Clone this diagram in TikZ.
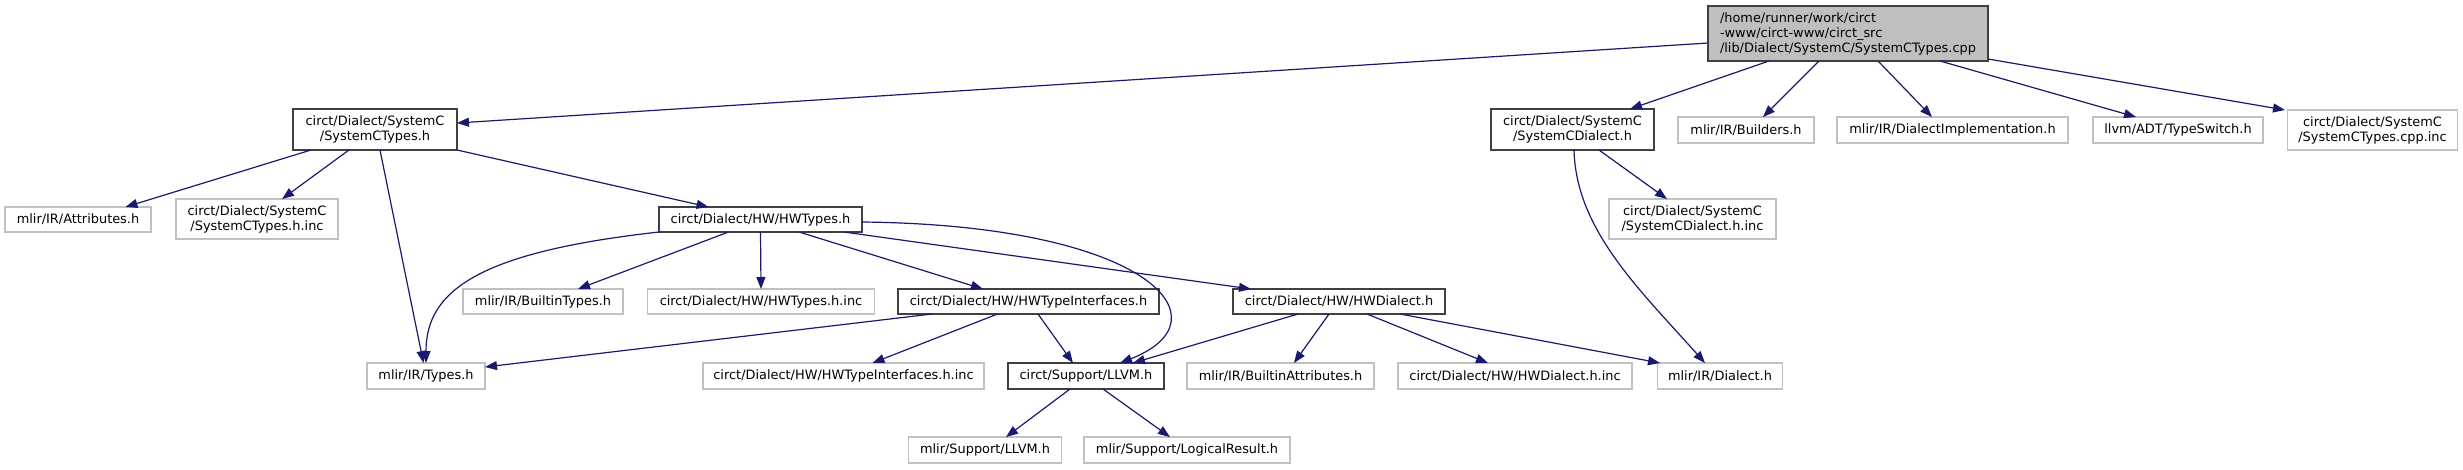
\documentclass[tikz,border=0pt]{standalone}
\usepackage{fontspec}
\setmainfont{DejaVu Sans}
\usetikzlibrary{arrows.meta}
\definecolor{edgeblue}{HTML}{191970}
\definecolor{darkborder}{HTML}{404040}
\definecolor{lightborder}{HTML}{C0C0C0}
\definecolor{rootfill}{HTML}{BFBFBF}
\begin{document}
\begin{tikzpicture}[x=1pt,y=-1pt,
 box/.style={draw, rectangle, inner sep=0pt, outer sep=0pt, font=\fontsize{12.9}{15}\selectfont, align=center, fill=white},
 docbox/.style={box, draw=darkborder, line width=1.5pt},
 extbox/.style={box, draw=lightborder, line width=1.2pt},
 edge/.style={draw=edgeblue, line width=1.2pt, -{Triangle[length=12pt,width=9pt]}}
]
\useasboundingbox (0,0) rectangle (2463,469);
% nodes
\node[docbox, fill=rootfill, align=left, minimum width=280pt, minimum height=55pt] (root) at (1848,33.5) {/home/runner/work/circt\\-www/circt-www/circt\_src\\/lib/Dialect/SystemC/SystemCTypes.cpp};
\node[docbox, minimum width=164pt, minimum height=41pt] (sctypes) at (375,129.5) {circt/Dialect/SystemC\\/SystemCTypes.h};
\node[extbox, minimum width=146pt, minimum height=25pt] (attr) at (78,219.5) {mlir/IR/Attributes.h};
\node[extbox, minimum width=162pt, minimum height=40pt] (sctinc) at (257,219) {circt/Dialect/SystemC\\/SystemCTypes.h.inc};
\node[extbox, minimum width=118pt, minimum height=26pt] (types) at (426,376) {mlir/IR/Types.h};
\node[docbox, minimum width=203pt, minimum height=25pt] (hwtypes) at (760.5,219.5) {circt/Dialect/HW/HWTypes.h};
\node[extbox, minimum width=160pt, minimum height=25pt] (builtintypes) at (543,301.5) {mlir/IR/BuiltinTypes.h};
\node[extbox, minimum width=227pt, minimum height=25pt] (hwtinc) at (761,301.5) {circt/Dialect/HW/HWTypes.h.inc};
\node[docbox, minimum width=261pt, minimum height=25pt] (hwti) at (1028.5,301.5) {circt/Dialect/HW/HWTypeInterfaces.h};
\node[docbox, minimum width=212pt, minimum height=25pt] (hwdialect) at (1339,301.5) {circt/Dialect/HW/HWDialect.h};
\node[extbox, minimum width=167pt, minimum height=40pt] (scdinc) at (1692.5,219) {circt/Dialect/SystemC\\/SystemCDialect.h.inc};
\node[docbox, minimum width=163pt, minimum height=41pt] (scdialect) at (1572.5,129.5) {circt/Dialect/SystemC\\/SystemCDialect.h};
\node[extbox, minimum width=136pt, minimum height=26pt] (builders) at (1746,130) {mlir/IR/Builders.h};
\node[extbox, minimum width=231pt, minimum height=26pt] (dialimpl) at (1952.5,130) {mlir/IR/DialectImplementation.h};
\node[extbox, minimum width=170pt, minimum height=26pt] (typeswitch) at (2178,130) {llvm/ADT/TypeSwitch.h};
\node[extbox, minimum width=170pt, minimum height=40pt] (sctcppinc) at (2372.5,130) {circt/Dialect/SystemC\\/SystemCTypes.cpp.inc};
\node[extbox, minimum width=281pt, minimum height=26pt] (hwtiinc) at (843.5,376) {circt/Dialect/HW/HWTypeInterfaces.h.inc};
\node[docbox, minimum width=156pt, minimum height=26pt] (llvm) at (1086,376) {circt/Support/LLVM.h};
\node[extbox, minimum width=187pt, minimum height=26pt] (builtinattr) at (1280.5,376) {mlir/IR/BuiltinAttributes.h};
\node[extbox, minimum width=234pt, minimum height=26pt] (hwdinc) at (1515,376) {circt/Dialect/HW/HWDialect.h.inc};
\node[extbox, minimum width=125pt, minimum height=26pt] (dialect) at (1720,376) {mlir/IR/Dialect.h};
\node[extbox, minimum width=153pt, minimum height=26pt] (mllvm) at (985,450) {mlir/Support/LLVM.h};
\node[extbox, minimum width=206pt, minimum height=26pt] (logres) at (1187,450) {mlir/Support/LogicalResult.h};
% edges from root
\draw[edge] ([yshift=-9.5pt]root.west) -- ([yshift=6.5pt]sctypes.east);
\draw[edge] ([xshift=-79pt]root.south) -- ([xshift=57.5pt]scdialect.north);
\draw[edge] ([xshift=-29pt]root.south) -- ([xshift=17pt]builders.north);
\draw[edge] ([xshift=30pt]root.south) -- ([xshift=-20.5pt]dialimpl.north);
\draw[edge] ([xshift=92pt]root.south) -- ([xshift=-42pt]typeswitch.north);
\draw[edge] ([yshift=2pt]root.south east) -- ([xshift=-87.5pt]sctcppinc.north);
% edges from SystemCTypes.h
\draw[edge] ([xshift=-64pt]sctypes.south) -- ([xshift=47.5pt]attr.north);
\draw[edge] ([xshift=-26pt]sctypes.south) -- ([xshift=25pt]sctinc.north);
\draw[edge] ([xshift=5pt]sctypes.south) -- ([xshift=-2.5pt]types.north);
\draw[edge] (sctypes.south east) -- ([xshift=-52pt]hwtypes.north);
% edges from HWTypes.h
\draw[edge] (hwtypes.south west) .. controls (480,252) and (426,290) .. (types.north);
\draw[edge] ([xshift=-32pt]hwtypes.south) -- ([xshift=35pt]builtintypes.north);
\draw[edge] (hwtypes.south) -- (hwtinc.north);
\draw[edge] ([xshift=38.5pt]hwtypes.south) -- ([xshift=-45.5pt]hwti.north);
\draw[edge] ([xshift=83.5pt]hwtypes.south) -- ([xshift=-88pt]hwdialect.north);
\draw[edge] ([yshift=-2.5pt]hwtypes.east) .. controls (1150,225) and (1230,320) .. ([xshift=34pt]llvm.north);
% edges from HWTypeInterfaces.h
\draw[edge] ([xshift=-96.5pt]hwti.south) -- ([yshift=9pt]types.east);
\draw[edge] ([xshift=-31pt]hwti.south) -- ([xshift=29pt]hwtiinc.north);
\draw[edge] ([xshift=9.5pt]hwti.south) -- ([xshift=-13pt]llvm.north);
% edges from HWDialect.h
\draw[edge] ([xshift=-41pt]hwdialect.south) -- ([xshift=47pt]llvm.north);
\draw[edge] ([xshift=-10pt]hwdialect.south) -- ([xshift=13.5pt]builtinattr.north);
\draw[edge] ([xshift=28pt]hwdialect.south) -- ([xshift=-27pt]hwdinc.north);
\draw[edge] ([xshift=61pt]hwdialect.south) -- ([xshift=-60pt]dialect.north);
% edges from SystemCDialect.h
\draw[edge] ([xshift=26.5pt]scdialect.south) -- ([xshift=-25.5pt]scdinc.north);
\draw[edge] ([xshift=1.5pt]scdialect.south) .. controls (1576,230) and (1640,290) .. ([xshift=-15pt]dialect.north);
% edges from circt/Support/LLVM.h
\draw[edge] ([xshift=-16pt]llvm.south) -- ([xshift=21pt]mllvm.north);
\draw[edge] ([xshift=17pt]llvm.south) -- ([xshift=-17pt]logres.north);
\end{tikzpicture}
\end{document}
